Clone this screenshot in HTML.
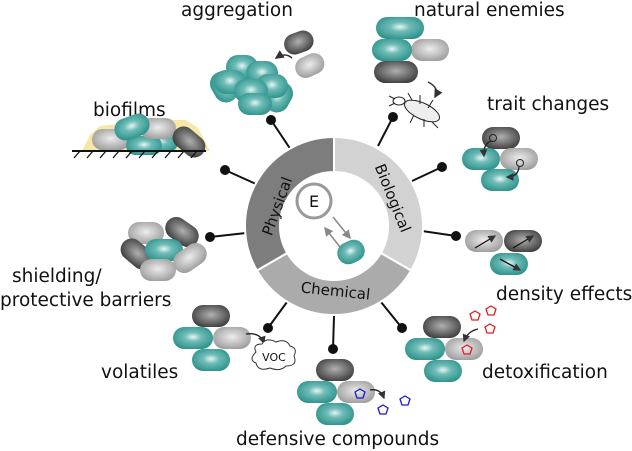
<!DOCTYPE html>
<html><head><style>html,body{margin:0;padding:0;background:#fff;width:632px;height:451px;overflow:hidden}text{font-family:"DejaVu Sans","Liberation Sans",sans-serif}</style></head><body>
<svg width="632" height="451" viewBox="0 0 632 451" xmlns="http://www.w3.org/2000/svg">
<defs>
<radialGradient id="t" cx="0.5" cy="0.45" r="0.6"><stop offset="0" stop-color="#e6f5f4"/><stop offset="0.35" stop-color="#6fbcb7"/><stop offset="1" stop-color="#2a8f88"/></radialGradient>
<radialGradient id="g" cx="0.5" cy="0.45" r="0.6"><stop offset="0" stop-color="#ececec"/><stop offset="1" stop-color="#9a9a9a"/></radialGradient>
<radialGradient id="d" cx="0.5" cy="0.45" r="0.6"><stop offset="0" stop-color="#b0b0b0"/><stop offset="1" stop-color="#3a3a3a"/></radialGradient>
<marker id="ah" markerWidth="6" markerHeight="6" refX="5" refY="3" orient="auto"><path d="M0,0L6,3L0,6z" fill="#333"/></marker>
<marker id="ag" markerWidth="6" markerHeight="6" refX="5" refY="3" orient="auto"><path d="M0,0L6,3L0,6z" fill="#888"/></marker>
</defs>

<g stroke="#111" stroke-width="2" fill="#111">
<line x1="271" y1="120" x2="291" y2="150"/><circle cx="271" cy="120" r="4"/>
<line x1="393" y1="117" x2="378" y2="146"/><circle cx="393" cy="117" r="4"/>
<line x1="225" y1="170" x2="256" y2="184"/><circle cx="225" cy="170" r="4"/>
<line x1="442" y1="167" x2="412" y2="181"/><circle cx="442" cy="167" r="4"/>
<line x1="210" y1="237" x2="246" y2="233"/><circle cx="210" cy="237" r="4"/>
<line x1="456" y1="236" x2="422" y2="231"/><circle cx="456" cy="236" r="4"/>
<line x1="268" y1="328" x2="287" y2="302"/><circle cx="268" cy="328" r="4"/>
<line x1="333" y1="349" x2="334" y2="316"/><circle cx="333" cy="349" r="4"/>
<line x1="402" y1="328" x2="381" y2="302"/><circle cx="402" cy="328" r="4"/>
</g>

<g transform="translate(334,226)" stroke="#fff" stroke-width="2">
<path d="M0,-89 A89,89 0 0 1 77.1,44.5 L46.8,27 A54,54 0 0 0 0,-54Z" fill="#d2d2d2"/>
<path d="M77.1,44.5 A89,89 0 0 1 -77.1,44.5 L-46.8,27 A54,54 0 0 0 46.8,27Z" fill="#ababab"/>
<path d="M-77.1,44.5 A89,89 0 0 1 0,-89 L0,-54 A54,54 0 0 0 -46.8,27Z" fill="#7d7d7d"/>
</g>
<text transform="translate(282,208) rotate(-70)" font-size="15" fill="#111" text-anchor="middle">Physical</text>
<text transform="translate(388,200) rotate(68)" font-size="15" fill="#111" text-anchor="middle">Biological</text>
<text transform="translate(335,296) rotate(6)" font-size="15" fill="#111" text-anchor="middle">Chemical</text>
<circle cx="314" cy="201" r="17" fill="#fff" stroke="#999" stroke-width="3"/>
<text x="314" y="207" font-size="16" text-anchor="middle" fill="#111">E</text>
<line x1="340" y1="247" x2="325" y2="228" stroke="#888" stroke-width="1.5" marker-end="url(#ag)"/>
<line x1="333" y1="217" x2="350" y2="238" stroke="#888" stroke-width="1.5" marker-end="url(#ag)"/>
<rect x="337" y="241" width="28" height="22" rx="11" fill="url(#t)" transform="rotate(-25 351 252)"/>

<g font-size="18.5" fill="#111">
<text x="181" y="16">aggregation</text>
<text x="414" y="16">natural enemies</text>
<text x="93" y="116">biofilms</text>
<text x="487" y="110">trait changes</text>
<text x="12" y="282">shielding/</text>
<text x="0" y="306">protective barriers</text>
<text x="496" y="300">density effects</text>
<text x="101" y="378">volatiles</text>
<text x="482" y="378">detoxification</text>
<text x="236" y="445">defensive compounds</text>
</g>

<g>
<rect x="284" y="32" width="30" height="21" rx="10.5" fill="url(#d)" transform="rotate(-20 299 43)"/>
<rect x="295" y="55" width="30" height="21" rx="10.5" fill="url(#g)" transform="rotate(-25 310 66)"/>
<path d="M292,58 Q285,52 276,58" stroke="#333" stroke-width="1.5" fill="none" marker-end="url(#ah)"/>
<rect x="208" y="75" width="32" height="24" rx="12" fill="url(#t)" transform="rotate(60 224 87)"/>
<rect x="263" y="85" width="32" height="24" rx="12" fill="url(#t)" transform="rotate(-60 279 97)"/>
<rect x="226" y="55" width="32" height="24" rx="12" fill="url(#t)"/>
<rect x="246" y="61" width="32" height="24" rx="12" fill="url(#t)"/>
<rect x="214" y="70" width="32" height="24" rx="12" fill="url(#t)"/>
<rect x="256" y="74" width="32" height="24" rx="12" fill="url(#t)"/>
<rect x="234" y="79" width="34" height="24" rx="12" fill="url(#t)"/>
<rect x="238" y="93" width="34" height="22" rx="11" fill="url(#t)"/>
</g>

<rect x="376" y="17" width="48" height="22" rx="11" fill="url(#t)"/>
<rect x="411" y="39" width="38" height="22" rx="11" fill="url(#g)"/>
<rect x="372" y="39" width="40" height="22" rx="11" fill="url(#t)"/>
<rect x="374" y="61" width="44" height="22" rx="11" fill="url(#d)"/>
<path d="M428,82 Q440,88 435,97" stroke="#333" stroke-width="1.5" fill="none" marker-end="url(#ah)"/>
<g stroke="#222" stroke-width="1" fill="none">
<ellipse cx="422" cy="111" rx="19" ry="8" transform="rotate(25 422 111)" fill="#eee"/>
<ellipse cx="399" cy="101" rx="6" ry="4" fill="#fff"/>
<line x1="412" y1="100" x2="408" y2="93"/><line x1="420" y1="104" x2="420" y2="95"/><line x1="428" y1="108" x2="433" y2="100"/>
<line x1="414" y1="115" x2="410" y2="123"/><line x1="424" y1="119" x2="424" y2="127"/><line x1="432" y1="122" x2="438" y2="128"/>
<line x1="395" y1="99" x2="389" y2="96"/><line x1="395" y1="103" x2="389" y2="106"/>
</g>

<path d="M82,151 L90,135 L100,126 L120,124 L130,120 L186,120 L198,128 L210,151 Z" fill="#f6e6a8"/>
<rect x="92" y="129" width="38" height="21" rx="10.5" fill="url(#g)"/>
<rect x="142" y="133" width="36" height="19" rx="9.5" fill="url(#t)"/>
<rect x="126" y="136" width="36" height="19" rx="9.5" fill="url(#t)"/>
<rect x="140" y="118" width="36" height="21" rx="10.5" fill="url(#g)"/>
<rect x="114" y="116" width="36" height="22" rx="11" fill="url(#t)" transform="rotate(-20 132 127)"/>
<rect x="171" y="131" width="36" height="22" rx="11" fill="url(#d)" transform="rotate(40 189 142)"/>
<g stroke="#111" stroke-width="1.3">
<line x1="72" y1="151" x2="206" y2="151" stroke-width="2"/>
<line x1="80" y1="151" x2="74" y2="158"/><line x1="93" y1="151" x2="87" y2="158"/><line x1="106" y1="151" x2="100" y2="158"/><line x1="119" y1="151" x2="113" y2="158"/><line x1="132" y1="151" x2="126" y2="158"/><line x1="145" y1="151" x2="139" y2="158"/><line x1="158" y1="151" x2="152" y2="158"/><line x1="171" y1="151" x2="165" y2="158"/><line x1="184" y1="151" x2="178" y2="158"/><line x1="197" y1="151" x2="191" y2="158"/>
</g>

<rect x="482" y="127" width="38" height="22" rx="11" fill="url(#d)"/>
<rect x="462" y="148" width="38" height="22" rx="11" fill="url(#t)"/>
<rect x="500" y="148" width="38" height="22" rx="11" fill="url(#g)"/>
<rect x="481" y="169" width="38" height="22" rx="11" fill="url(#t)"/>
<circle cx="493" cy="138" r="3.5" fill="none" stroke="#222"/>
<path d="M491,141 Q483,144 484,156" stroke="#222" stroke-width="1.3" fill="none" marker-end="url(#ah)"/>
<circle cx="520" cy="163" r="3.5" fill="none" stroke="#222"/>
<path d="M519,167 Q518,177 507,177" stroke="#222" stroke-width="1.3" fill="none" marker-end="url(#ah)"/>

<rect x="128" y="222" width="36" height="22" rx="11" fill="url(#g)"/>
<rect x="164" y="221" width="36" height="22" rx="11" fill="url(#d)" transform="rotate(35 182 232)"/>
<rect x="119" y="243" width="36" height="22" rx="11" fill="url(#d)" transform="rotate(40 137 254)"/>
<rect x="145" y="239" width="38" height="22" rx="11" fill="url(#t)"/>
<rect x="172" y="247" width="36" height="22" rx="11" fill="url(#g)" transform="rotate(-35 190 258)"/>
<rect x="140" y="259" width="36" height="22" rx="11" fill="url(#g)"/>

<rect x="465" y="230" width="38" height="22" rx="11" fill="url(#g)"/>
<rect x="504" y="230" width="38" height="22" rx="11" fill="url(#d)"/>
<rect x="490" y="253" width="38" height="22" rx="11" fill="url(#t)"/>
<g stroke="#111" stroke-width="1.3"><line x1="475" y1="248" x2="495" y2="236" marker-end="url(#ah)"/><line x1="513" y1="248" x2="533" y2="236" marker-end="url(#ah)"/><line x1="500" y1="259" x2="520" y2="270" marker-end="url(#ah)"/></g>

<rect x="423" y="316" width="38" height="22" rx="11" fill="url(#d)"/>
<rect x="405" y="338" width="40" height="22" rx="11" fill="url(#t)"/>
<rect x="445" y="338" width="38" height="22" rx="11" fill="url(#g)"/>
<rect x="424" y="360" width="38" height="22" rx="11" fill="url(#t)"/>
<g fill="none" stroke="#e02020" stroke-width="1.3">
<polygon points="475,311 480,314 478,320 472,320 470,314"/>
<polygon points="491,306 496,309 494,315 488,315 486,309"/>
<polygon points="490,324 495,327 493,333 487,333 485,327"/>
<polygon points="467,345 472,348 470,354 464,354 462,348"/>
</g>
<path d="M478,329 Q468,331 464,341" stroke="#222" stroke-width="1.3" fill="none" marker-end="url(#ah)"/>

<rect x="316" y="359" width="38" height="22" rx="11" fill="url(#d)"/>
<rect x="297" y="381" width="40" height="22" rx="11" fill="url(#t)"/>
<rect x="337" y="381" width="38" height="22" rx="11" fill="url(#g)"/>
<rect x="316" y="403" width="38" height="22" rx="11" fill="url(#t)"/>
<g fill="none" stroke="#1a1acc" stroke-width="1.3">
<polygon points="360,389 365,392 363,398 357,398 355,392"/>
<polygon points="383,405 388,408 386,414 380,414 378,408"/>
<polygon points="405,396 410,399 408,405 402,405 400,399"/>
</g>
<path d="M370,390 Q380,388 384,398" stroke="#222" stroke-width="1.3" fill="none" marker-end="url(#ah)"/>

<rect x="192" y="305" width="38" height="22" rx="11" fill="url(#d)"/>
<rect x="173" y="327" width="40" height="22" rx="11" fill="url(#t)"/>
<rect x="213" y="327" width="38" height="22" rx="11" fill="url(#g)"/>
<rect x="192" y="349" width="38" height="22" rx="11" fill="url(#t)"/>
<path d="M246,334 Q260,332 264,343" stroke="#222" stroke-width="1.3" fill="none" marker-end="url(#ah)"/>
<path d="M256,352 Q252,344 262,344 Q266,337 276,342 Q286,338 290,346 Q298,348 294,356 Q298,366 286,366 Q280,372 270,368 Q258,372 256,363 Q248,360 256,352Z" fill="#fff" stroke="#333" stroke-width="1"/>
<text x="274" y="361" font-size="11" text-anchor="middle" fill="#111">VOC</text>
</svg>
</body></html>
